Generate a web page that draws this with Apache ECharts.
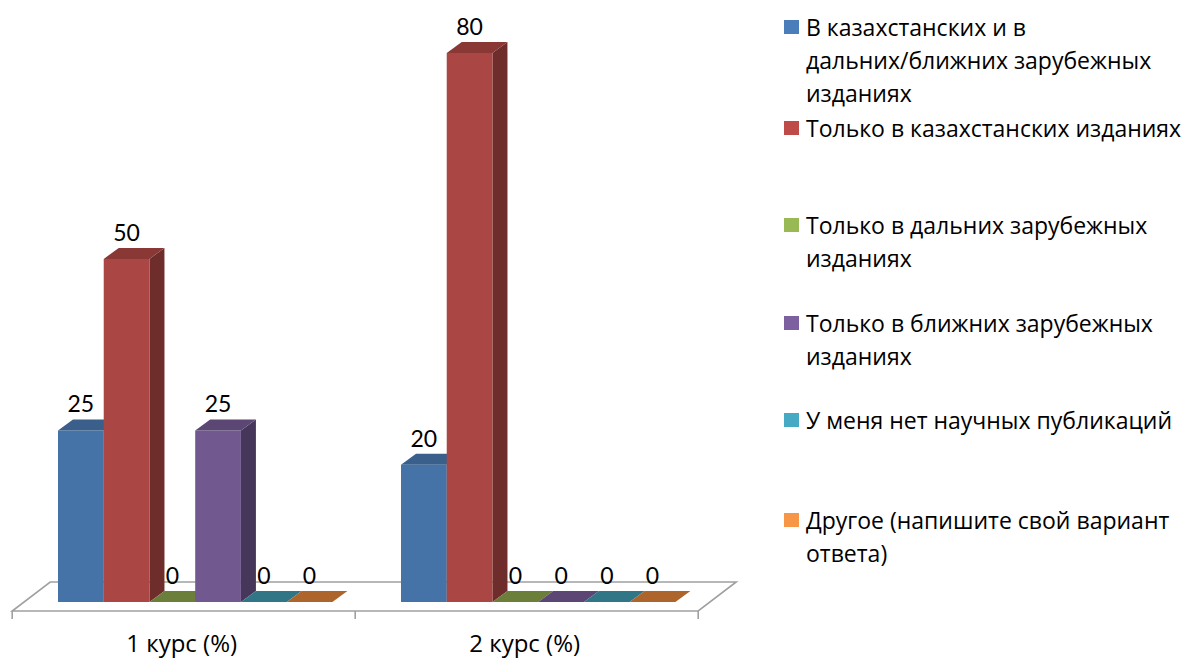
<!DOCTYPE html>
<html>
<head>
<meta charset="utf-8">
<script src="https://cdn.jsdelivr.net/npm/echarts@6/dist/echarts.min.js"></script>
<style>
html,body{margin:0;padding:0;background:#fff;}
#chart{width:1184px;height:659px;}
</style>
</head>
<body>
<div id="chart"></div>
<script>
// ---- data ----
const categories = ['1 курс (%)', '2 курс (%)'];
const seriesNames = [
  'В казахстанских и в дальних/ближних зарубежных изданиях',
  'Только в казахстанских изданиях',
  'Только в дальних зарубежных изданиях',
  'Только в ближних зарубежных изданиях',
  'У меня нет научных публикаций',
  'Другое (напишите свой вариант ответа)'
];
const legendLines = [
  'В казахстанских и в\nдальних/ближних зарубежных\nизданиях',
  'Только в казахстанских изданиях',
  'Только в дальних зарубежных\nизданиях',
  'Только в ближних зарубежных\nизданиях',
  'У меня нет научных публикаций',
  'Другое (напишите свой вариант\nответа)'
];
const kazAndForeign = [25, 20];
const onlyKaz = [50, 80];
const onlyFar = [0, 0];
const onlyNear = [25, 0];
const noPublications = [0, 0];
const other = [0, 0];
const seriesValues = [kazAndForeign, onlyKaz, onlyFar, onlyNear, noPublications, other];

// ---- styles ----
const legendColors = ['#4A7EBB', '#BE4B48', '#98B954', '#7D60A0', '#46AAC5', '#F79646'];
const frontColors  = ['#4572A7', '#AA4643', '#89A54E', '#71588F', '#4198AF', '#DB843D'];
const topColors    = ['#3A5F8B', '#8A3835', '#6B7F3B', '#5B4674', '#307686', '#AE652C'];
const sideColors   = ['#2F4C70', '#6E2C2A', '#566632', '#46375A', '#285F6E', '#8A5024'];
const legendCenters = [27, 128, 225, 323, 420, 520];
const NUM_FONT = 'Lato';
const TXT_FONT = 'Open Sans';
const DX = 15, DY = -11;          // bar depth
const FDX = 38, FDY = -29;        // floor depth
const OFX = -11.5, OFY = 9;       // floor front offset from bar front plane
const LINE_H = 33;

function barRender(k) {
  return function (params, api) {
    const ci = api.value(0), v = api.value(1);
    const base = api.coord([ci, 0]);
    const top = api.coord([ci, v]);
    const bandW = api.size([1, 0])[0];
    const barW = bandW / 7.5;
    const x0 = base[0] - bandW / 2 + 0.75 * barW + k * barW;
    const x1 = x0 + barW;
    const yb = base[1], yt = top[1];
    const children = [];
    if (yb - yt > 0.5) {
      children.push({ type: 'polygon', shape: { points: [[x1, yt], [x1, yb], [x1 + DX, yb + DY], [x1 + DX, yt + DY]] },
        style: { fill: sideColors[k] } });
      children.push({ type: 'rect', shape: { x: x0, y: yt, width: barW, height: yb - yt },
        style: { fill: frontColors[k] } });
    }
    children.push({ type: 'polygon', shape: { points: [[x0, yt], [x1, yt], [x1 + DX, yt + DY], [x0 + DX, yt + DY]] },
      style: { fill: topColors[k] } });
    children.push({ type: 'text', z2: 100, style: { text: String(v), x: x0 + barW / 2, y: yt - 27,
      align: 'center', verticalAlign: 'middle', fontFamily: NUM_FONT, fontSize: 23, fill: '#000' } });
    return { type: 'group', children };
  };
}

function floorRender(params, api) {
  const c0 = api.coord([0, 0]);
  const c1 = api.coord([categories.length - 1, 0]);
  const bandW = api.size([1, 0])[0];
  const left = c0[0] - bandW / 2 + OFX;
  const right = c1[0] + bandW / 2 + OFX;
  const yf = c0[1] + OFY;
  const children = [{
    type: 'polygon',
    shape: { points: [[left, yf], [right, yf], [right + FDX, yf + FDY], [left + FDX, yf + FDY]] },
    style: { fill: '#fff', stroke: '#A0A0A0', lineWidth: 1.6 }
  }];
  for (let i = 0; i <= categories.length; i++) {
    const x = left + i * bandW;
    children.push({ type: 'line', shape: { x1: x, y1: yf, x2: x, y2: yf + 8 },
      style: { stroke: '#A0A0A0', lineWidth: 1.6 } });
  }
  return { type: 'group', children };
}

const series = [{
  type: 'custom', name: 'floor', z: 1, silent: true,
  renderItem: floorRender,
  data: [[0, 0]], encode: { x: 0, y: 1 }
}];
seriesNames.forEach((name, k) => {
  series.push({
    type: 'custom', name, z: 2,
    itemStyle: { color: legendColors[k] },
    renderItem: barRender(k),
    data: categories.map((c, i) => [i, seriesValues[k][i]]),
    encode: { x: 0, y: 1 }
  });
});

// legend drawn as graphic entries (icon aligned to first text line)
const legendGraphic = seriesNames.map((name, i) => ({
  type: 'group', left: 784, top: legendCenters[i] - LINE_H / 2,
  children: [
    { type: 'rect', shape: { x: 0, y: LINE_H / 2 - 7, width: 15, height: 14 }, style: { fill: legendColors[i] } },
    { type: 'text', x: 22, y: 0, style: { text: legendLines[i], fontFamily: TXT_FONT, fontSize: 23,
      lineHeight: LINE_H, fill: '#000', verticalAlign: 'top', align: 'left' } }
  ]
}));

const chart = echarts.init(document.getElementById('chart'), null, { renderer: 'svg' });
chart.setOption({
  animation: false,
  backgroundColor: '#fff',
  textStyle: { fontFamily: TXT_FONT },
  grid: { left: 23.7, right: 474.3, top: 53, bottom: 57, containLabel: false },
  xAxis: {
    type: 'category', data: categories,
    axisLine: { show: false }, axisTick: { show: false },
    axisLabel: { fontFamily: TXT_FONT, fontSize: 24, color: '#000', margin: 28, padding: [0, 27, 0, 0] }
  },
  yAxis: { type: 'value', min: 0, max: 80, show: false },
  graphic: legendGraphic,
  series
});
</script>
</body>
</html>
